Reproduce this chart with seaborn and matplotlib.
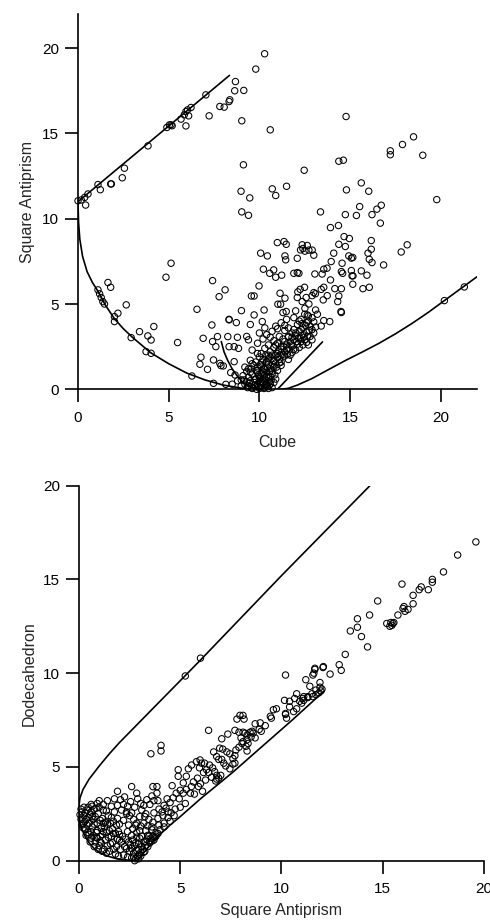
import matplotlib
matplotlib.use("Agg")
import matplotlib.pyplot as plt
import seaborn as sns
import pandas as pd

# ---------------------------------------------------------------------------
# Continuous shape measures: Cube vs Square Antiprism (upper panel)
# ---------------------------------------------------------------------------
cube_sap_upper_band = [
    (0.0, 11.05), (0.18, 11.1), (0.37, 11.25), (0.55, 11.45), (0.42, 10.8),
    (1.1, 12.0), (1.23, 11.7), (1.8, 12.04), (1.84, 12.04), (2.44, 12.4),
    (2.56, 12.96), (3.86, 14.27), (4.9, 15.35), (5.04, 15.5), (5.13, 15.5),
    (5.19, 15.45), (5.68, 15.84), (5.86, 16.09), (5.95, 16.28), (6.04, 16.38),
    (6.23, 16.52), (6.1, 16.03), (5.95, 15.44), (7.05, 17.26), (7.23, 16.03),
    (7.82, 16.58), (8.06, 16.54), (8.33, 16.87), (8.37, 16.97), (8.64, 17.5),
    (8.68, 18.04), (9.14, 17.52), (9.03, 15.74), (9.8, 18.77), (10.29, 19.67),
]
cube_sap_upper_scatter = [
    (9.12, 13.16), (10.6, 15.21), (8.99, 11.61), (9.47, 11.22), (9.03, 10.4),
    (9.4, 10.2), (10.71, 11.75), (10.9, 11.36), (11.5, 11.9), (12.47, 12.84),
    (14.78, 15.99), (14.38, 13.37), (14.63, 13.43), (14.8, 11.69), (15.62, 12.1),
    (16.03, 11.61), (17.22, 13.98), (17.22, 13.75), (17.89, 14.35), (18.5, 14.8),
    (19.01, 13.72), (19.78, 11.12), (13.37, 10.4), (13.92, 9.48), (14.36, 9.6),
    (14.74, 10.24), (15.35, 10.19), (15.53, 10.71), (16.21, 10.24), (16.48, 10.56),
    (16.72, 10.79), (16.67, 9.74),
]
cube_sap_right = [
    (14.67, 8.95), (14.96, 8.84), (14.74, 8.37), (14.38, 8.5), (16.17, 8.72),
    (16.17, 8.21), (15.99, 7.98), (16.06, 7.62), (16.21, 7.43), (16.85, 7.29),
    (17.82, 8.05), (18.15, 8.47), (14.1, 7.98), (13.96, 7.49), (13.55, 7.04),
    (13.73, 7.1), (13.46, 6.76), (13.06, 6.76), (14.56, 7.39), (14.52, 6.9),
    (14.59, 6.8), (14.93, 7.82), (15.07, 7.69), (15.15, 7.73), (15.11, 6.65),
    (15.16, 6.65), (15.07, 6.96), (15.15, 6.16), (15.71, 5.9), (15.62, 6.94),
    (15.93, 6.69), (16.06, 5.98), (13.92, 6.41), (13.55, 5.98), (14.16, 5.9),
    (14.38, 5.47), (14.32, 5.14), (14.52, 5.9), (14.5, 4.56), (14.52, 4.5),
    (13.41, 5.86), (13.0, 5.67), (13.52, 5.24), (13.74, 5.49), (13.1, 4.65),
    (13.55, 4.03), (13.88, 3.97), (13.41, 3.71), (20.2, 5.2), (21.3, 6.0),
]
cube_sap_middle = [
    (10.99, 8.6), (11.36, 8.66), (11.48, 8.5), (12.36, 8.47), (12.64, 8.43),
    (12.4, 8.25), (12.51, 8.1), (12.73, 8.16), (12.91, 8.16), (13.0, 7.86),
    (12.27, 8.17), (12.09, 7.68), (10.07, 7.98), (10.44, 7.82), (11.41, 7.82),
    (11.45, 7.59), (10.22, 7.04), (10.79, 7.0), (10.57, 6.8), (10.9, 6.57),
    (11.23, 6.69), (11.9, 6.8), (12.09, 6.84), (12.18, 6.8), (9.98, 6.06),
    (10.26, 4.65), (9.56, 5.47), (9.71, 5.47), (9.01, 4.61), (9.71, 4.36),
    (10.16, 3.97), (8.33, 4.1), (8.73, 3.91), (7.42, 6.37), (7.78, 5.43),
    (8.11, 5.83), (11.14, 5.63), (11.41, 5.34), (11.02, 4.99), (11.17, 4.99),
    (11.48, 4.56), (12.12, 5.71), (12.25, 5.86), (12.49, 5.98), (12.09, 5.38),
    (12.36, 5.14), (12.73, 5.0), (12.58, 5.38), (12.91, 5.49), (13.09, 5.6),
    (12.51, 4.75), (12.64, 4.36),
]
cube_sap_left = [
    (1.1, 5.83), (1.19, 5.6), (1.28, 5.38), (1.37, 5.14), (1.46, 5.0),
    (1.65, 6.26), (1.8, 5.98), (2.01, 4.26), (2.01, 3.97), (2.2, 4.46),
    (2.66, 4.95), (2.93, 3.03), (3.39, 3.38), (3.85, 3.13), (4.03, 2.89),
    (4.18, 3.68), (3.75, 2.21), (4.03, 2.11), (4.85, 6.57), (5.13, 7.39),
    (5.49, 2.74), (6.28, 0.78), (6.56, 4.69), (6.9, 2.99), (6.78, 1.88),
    (6.72, 1.47), (7.14, 1.17), (7.38, 3.77), (7.47, 0.35), (7.42, 2.8),
    (7.6, 2.5), (7.47, 1.72), (7.69, 3.09), (7.82, 1.52), (7.88, 1.39),
    (8.01, 1.37), (8.26, 3.09), (8.33, 2.5), (8.42, 0.98), (8.33, 4.07),
    (8.61, 2.5), (8.61, 1.62), (8.66, 0.84), (8.79, 3.05), (8.85, 2.4),
    (8.15, 0.29), (8.5, 0.3), (8.8, 0.5), (9.0, 0.2),
]
cube_sap_cluster = [
    (9.2, 0.3), (9.4, 0.2), (9.6, 0.1), (9.7, 0.4), (9.8, 0.15), (9.9, 0.3),
    (10.0, 0.05), (10.1, 0.2), (10.2, 0.35), (10.3, 0.1), (10.4, 0.25),
    (10.6, 0.3), (9.5, 0.5), (9.0, 0.55), (9.3, 0.45),
    (9.1, 0.8), (9.4, 0.7), (9.6, 0.9), (9.8, 0.6), (10.0, 0.75), (10.1, 0.95),
    (10.2, 0.6), (10.3, 0.85), (10.5, 0.7), (10.7, 0.9), (10.9, 0.6),
    (9.5, 1.0), (9.9, 1.0), (10.4, 1.0),
    (9.2, 1.3), (9.4, 1.2), (9.7, 1.4), (9.9, 1.25), (10.1, 1.35), (10.3, 1.15),
    (10.5, 1.45), (10.6, 1.2), (10.8, 1.3), (11.0, 1.1), (11.2, 1.4), (9.6, 1.5),
    (9.5, 1.7), (9.8, 1.6), (10.0, 1.9), (10.2, 1.75), (10.4, 1.6), (10.6, 1.9),
    (10.8, 1.7), (11.0, 1.85), (11.2, 1.6), (11.4, 1.95), (11.6, 1.75), (10.9, 1.55),
    (9.6, 2.3), (9.9, 2.1), (10.3, 2.4), (10.6, 2.2), (10.8, 2.45), (11.0, 2.1),
    (11.2, 2.35), (11.4, 2.2), (11.6, 2.4), (11.8, 2.15), (12.0, 2.3), (12.2, 2.45),
    (10.5, 2.0),
    (9.4, 2.9), (9.9, 2.7), (10.2, 2.95), (10.5, 2.6), (10.8, 2.85), (11.0, 2.7),
    (11.3, 2.95), (11.5, 2.6), (11.7, 2.8), (11.9, 2.9), (12.1, 2.65), (12.3, 2.8),
    (12.5, 2.9), (12.7, 2.6),
    (9.3, 3.1), (10.0, 3.3), (10.4, 3.2), (10.7, 3.4), (11.1, 3.1), (11.4, 3.45),
    (11.8, 3.3), (12.0, 3.15), (12.2, 3.4), (12.4, 3.2), (12.6, 3.35), (12.8, 3.1),
    (13.0, 3.3), (11.6, 3.05),
    (9.5, 3.8), (10.3, 3.6), (10.9, 3.7), (11.2, 3.9), (11.6, 3.6), (12.1, 3.8),
    (12.4, 3.6), (12.6, 3.9), (12.8, 3.7), (13.0, 3.95), (12.2, 4.0), (11.0, 3.55),
    (11.5, 4.1), (11.9, 4.2), (12.3, 4.1), (12.5, 4.4), (12.7, 4.3), (12.9, 4.2),
    (12.0, 4.6), (11.3, 4.5), (13.2, 4.4),
    (9.6, 0.05), (9.85, 0.0), (10.05, 0.1), (10.25, 0.05), (10.45, 0.15),
    (9.35, 0.1), (10.7, 0.1),
    (9.15, 0.55), (9.45, 0.35), (9.75, 0.55), (10.05, 0.45), (10.35, 0.55),
    (10.55, 0.45), (10.8, 0.4), (9.95, 0.85), (10.25, 0.8), (10.6, 0.75),
    (9.3, 1.05), (9.55, 1.2), (9.85, 1.1), (10.05, 1.45), (10.25, 1.2),
    (10.45, 1.3), (10.7, 1.05), (10.95, 1.3), (11.1, 1.55), (10.35, 1.55),
    (10.1, 2.1), (10.35, 2.0), (10.7, 2.0), (11.05, 2.25), (11.3, 2.05),
    (11.5, 2.3), (11.7, 2.0), (11.1, 1.75), (10.5, 1.8), (11.9, 2.35),
    (10.6, 3.05), (10.9, 2.6), (11.2, 2.5), (11.6, 3.1), (11.85, 2.55),
    (12.15, 3.0), (12.4, 2.6), (12.65, 3.1), (12.9, 2.9), (11.4, 2.8),
    (11.9, 3.5), (12.3, 3.5), (12.55, 3.75), (12.9, 3.5), (13.1, 3.65),
    (12.0, 3.3), (11.4, 3.75), (12.7, 4.0),
    (9.95, 0.15), (10.15, 0.4), (10.35, 0.3), (10.5, 0.05), (9.75, 0.25),
    (10.0, 0.6), (10.2, 1.0), (10.4, 0.75), (10.65, 0.55), (10.85, 0.85),
    (10.15, 1.6), (10.55, 1.05), (10.75, 1.45), (10.9, 2.0), (11.15, 2.0),
    (11.35, 2.5), (11.55, 2.05), (11.75, 2.6), (12.05, 2.8), (12.25, 3.0),
    (12.45, 3.05), (12.6, 2.75), (12.75, 3.45), (12.35, 3.85), (11.8, 3.05),
]

# Minimal-distortion paths and limits (upper panel)
sap_line_x = [0.0, 8.35]
sap_line_y = [11.0, 18.4]
arc_x = [0.0, 0.03, 0.1, 0.25, 0.5, 0.8, 1.1, 1.5, 2.0, 2.5, 3.0, 3.5, 4.0,
         5.0, 6.0, 7.0, 8.0, 9.0, 9.6, 10.0]
arc_y = [10.9, 9.8, 8.8, 7.8, 6.9, 6.25, 5.75, 4.95, 4.15, 3.55, 3.05, 2.6,
         2.15, 1.5, 0.95, 0.55, 0.25, 0.07, 0.02, 0.0]
small_arc_x = [7.9, 8.05, 8.25, 8.5, 8.8, 9.1, 9.5, 9.9]
small_arc_y = [2.8, 2.2, 1.7, 1.2, 0.75, 0.4, 0.12, 0.0]
ray_x = [11.0, 13.48]
ray_y = [0.0, 2.78]
rise_x = [11.2, 11.6, 12.1, 12.9, 13.8, 14.8, 15.7, 16.6, 17.5, 18.4, 19.3,
          20.2, 21.1, 22.0]
rise_y = [0.0, 0.06, 0.25, 0.63, 1.15, 1.72, 2.2, 2.7, 3.25, 3.85, 4.5, 5.2,
          5.9, 6.6]

# ---------------------------------------------------------------------------
# Square Antiprism vs Dodecahedron (lower panel)
# ---------------------------------------------------------------------------
sap_dod_upper = [
    (19.6, 17.0), (18.7, 16.3), (18.0, 15.4), (17.45, 15.0), (17.45, 14.85),
    (17.25, 14.45), (16.9, 14.6), (16.8, 14.45), (16.5, 14.15), (16.5, 13.7),
    (15.95, 14.75), (16.05, 13.55), (16.0, 13.45), (16.1, 13.3), (15.75, 13.1),
    (16.25, 13.4), (15.5, 12.65), (15.4, 12.7), (15.55, 12.7), (15.2, 12.65),
    (15.35, 12.5), (15.45, 12.55), (14.75, 13.85), (14.35, 13.1), (13.75, 12.9),
    (13.75, 12.45), (13.4, 12.25), (13.95, 11.95), (14.25, 11.4), (13.15, 11.0),
    (12.85, 10.45), (12.95, 10.15), (12.05, 10.3), (12.4, 9.95), (11.65, 10.2),
    (11.6, 10.0), (11.55, 9.9), (11.2, 9.65), (11.4, 9.3), (11.9, 9.5),
    (12.0, 9.15), (11.95, 9.05), (11.85, 8.95), (11.7, 8.85), (11.55, 8.75),
    (11.3, 8.7), (11.05, 8.65), (10.9, 8.5), (11.1, 8.75), (10.75, 8.9),
    (10.65, 8.65), (11.0, 8.4), (10.4, 8.5), (10.2, 9.9), (10.15, 8.55),
    (10.2, 7.85), (10.25, 7.6), (10.6, 7.95), (10.4, 8.2), (10.75, 8.1),
    (9.6, 8.05), (9.75, 8.1), (9.45, 7.7), (8.95, 7.35), (8.7, 7.3), (8.9, 7.0),
    (12.07, 10.35), (11.65, 10.26),
]
sap_dod_middle = [
    (7.95, 7.75), (8.1, 7.75), (8.15, 7.55), (7.8, 7.55), (7.7, 6.95),
    (7.9, 6.85), (8.1, 6.85), (8.2, 6.8), (8.3, 6.7), (8.45, 6.85), (8.55, 6.9),
    (8.6, 6.8), (8.0, 6.55), (8.1, 6.35), (8.25, 6.1), (8.35, 6.25), (8.5, 6.6),
    (8.3, 6.45), (6.4, 6.95), (7.05, 6.5), (7.35, 6.75), (7.75, 5.9), (7.6, 5.45),
    (7.7, 5.6), (7.45, 5.7), (7.3, 5.8), (7.1, 5.95), (6.95, 6.0), (6.65, 5.8),
    (6.8, 5.55), (6.9, 5.4), (7.05, 5.4), (7.15, 5.2), (7.45, 4.9), (7.6, 5.15),
    (6.7, 4.75), (6.8, 4.55), (6.9, 4.4), (6.75, 4.25), (6.6, 4.95), (6.45, 5.1),
    (6.2, 5.2), (6.05, 5.2), (5.95, 4.95), (6.15, 4.7), (6.3, 4.85), (6.4, 4.7),
    (6.0, 4.1), (5.9, 3.95), (5.65, 4.2), (5.55, 3.95), (5.3, 3.8), (5.5, 3.6),
    (5.3, 4.5), (4.9, 4.85), (4.9, 4.5), (5.4, 4.9), (5.0, 3.75), (4.8, 3.6),
    (4.65, 3.35), (4.5, 3.1), (4.35, 3.3), (4.2, 2.95), (3.95, 2.75), (3.7, 2.55),
    (4.6, 4.0), (3.85, 3.95), (3.65, 3.95), (3.55, 5.7), (4.05, 6.15), (4.05, 5.85),
    (5.15, 3.6), (5.25, 3.05), (5.0, 2.85), (4.75, 2.75), (4.4, 2.6), (4.15, 2.4),
    (3.9, 2.25), (3.65, 2.05), (4.0, 1.65), (3.85, 3.6), (3.6, 3.45), (3.35, 3.25),
    (3.2, 2.95), (3.05, 3.05), (2.85, 3.6), (2.6, 3.95), (1.9, 3.7), (3.9, 3.2),
    (5.98, 5.37), (5.8, 5.28), (5.56, 5.1),
    (6.8, 4.35), (7.0, 4.55), (7.7, 5.2), (8.3, 5.85), (9.5, 7.6), (10.2, 7.8),
    (11.1, 8.55), (11.3, 8.75), (11.5, 8.9), (11.7, 9.1), (11.9, 9.25),
    (5.7, 3.55), (5.85, 4.4), (6.25, 4.3), (6.55, 4.45), (7.25, 5.05),
    (7.9, 6.05), (8.05, 6.25), (8.7, 6.55), (9.0, 6.9), (9.2, 7.2),
    (4.3, 2.8), (4.55, 2.55), (4.95, 3.3), (5.15, 4.15), (6.1, 3.7),
]
sap_dod_lower_left = [
    (0.05, 2.45), (0.1, 2.2), (0.15, 2.6), (0.2, 2.0), (0.25, 2.4), (0.3, 1.7),
    (0.35, 2.2), (0.4, 2.7), (0.45, 1.5), (0.5, 2.0), (0.55, 2.45), (0.6, 1.2),
    (0.65, 1.8), (0.7, 2.2), (0.75, 2.75), (0.8, 1.0), (0.85, 1.5), (0.9, 2.0),
    (0.95, 2.5), (1.0, 0.8), (1.05, 1.3), (1.1, 1.75), (1.15, 2.25), (1.2, 2.7),
    (1.25, 0.6), (1.3, 1.1), (1.35, 1.5), (1.4, 1.95), (1.45, 2.4), (1.5, 0.5),
    (1.55, 0.9), (1.6, 1.3), (1.65, 1.7), (1.7, 2.1), (1.75, 2.6), (1.8, 0.35),
    (1.85, 0.75), (1.9, 1.15), (1.95, 1.55), (2.0, 1.95), (0.2, 1.75), (0.3, 2.55),
    (0.4, 1.9), (0.5, 1.4), (0.6, 2.6), (0.7, 1.35), (0.8, 2.35), (0.9, 1.2),
    (1.0, 2.85), (1.1, 0.95), (1.2, 1.55), (1.3, 2.05), (1.4, 0.8), (1.5, 1.6),
    (1.6, 2.3), (1.7, 0.6), (1.8, 1.45), (1.9, 2.25), (0.35, 1.35), (0.55, 1.0),
    (0.75, 0.75), (0.95, 0.6), (1.15, 0.5), (1.35, 0.4), (0.45, 2.85), (0.65, 2.9),
    (0.85, 2.8), (1.05, 2.15), (1.25, 1.8), (1.45, 1.25), (1.65, 0.95), (2.05, 0.6),
    (2.1, 1.0), (2.15, 1.3), (2.2, 0.3), (2.25, 0.75), (2.3, 1.15), (1.95, 0.25),
    (0.1, 2.75), (0.25, 2.85),
    (0.15, 1.9), (0.3, 2.1), (0.45, 2.3), (0.6, 1.55), (0.75, 1.95), (0.9, 1.6),
    (1.05, 1.0), (1.2, 2.0), (1.35, 2.65), (1.55, 2.0), (1.7, 1.45), (1.85, 1.9),
    (2.0, 1.1), (0.65, 2.35), (0.85, 1.25), (1.15, 1.4),
]
sap_dod_cusp = [
    (2.4, 0.2), (2.5, 0.5), (2.6, 0.15), (2.7, 0.4), (2.75, 0.8), (2.8, 0.1),
    (2.85, 0.55), (2.9, 0.25), (2.95, 0.9), (2.95, 0.1), (3.05, 0.45), (3.1, 0.75),
    (3.05, 0.25), (3.2, 1.0), (3.25, 0.5), (3.3, 0.8), (3.35, 1.15), (3.4, 0.75),
    (3.5, 0.95), (3.55, 1.2), (3.6, 1.05), (3.7, 1.1), (3.75, 1.25), (3.8, 1.3),
    (2.55, 0.85), (2.65, 1.1), (2.45, 1.0), (2.35, 0.65), (3.0, 1.2), (2.85, 1.25),
    (3.1, 1.3), (3.45, 1.3), (2.75, 0.0), (2.95, 0.6), (3.2, 0.45), (3.4, 1.35),
    (3.65, 1.3), (3.9, 1.45),
    (2.6, 0.65), (2.8, 0.95), (3.0, 0.35), (3.15, 0.6), (3.3, 1.0), (2.7, 0.2),
]
sap_dod_scattered = [
    (1.2, 3.0), (1.4, 3.2), (1.6, 2.9), (1.75, 3.3), (2.05, 3.25), (2.25, 3.4),
    (2.4, 2.9), (2.55, 3.15), (2.75, 2.85), (2.9, 3.3), (3.1, 2.7), (3.3, 2.5),
    (3.5, 3.0), (3.7, 3.2), (3.45, 2.2), (3.25, 2.35), (3.05, 1.85), (2.85, 1.5),
    (2.65, 1.7), (2.45, 1.9), (2.2, 2.15), (2.35, 2.5), (2.1, 2.7), (1.9, 2.95),
    (2.6, 2.55), (0.9, 3.05), (0.6, 3.0), (1.0, 3.2), (4.2, 2.0), (4.4, 2.3),
    (4.5, 2.1), (4.7, 2.4), (4.1, 2.6), (3.95, 1.9), (2.0, 1.4), (2.6, 1.35),
    (2.4, 1.55), (2.8, 1.9), (3.0, 1.6), (3.3, 1.6), (3.6, 1.8), (4.2, 1.8),
    (3.8, 1.5), (2.2, 3.0), (2.35, 2.6), (2.5, 2.4), (2.7, 2.2), (2.85, 2.0),
    (3.0, 2.35), (3.2, 2.0), (3.4, 1.85), (3.6, 1.65),
    (5.25, 9.85), (6.0, 10.8),
]

# Minimal-distortion paths and limits (lower panel)
upper_path_x = [0.0, 0.05, 0.2, 0.5, 1.0, 1.5, 2.0, 2.5, 3.0, 3.5, 4.0, 5.23,
                6.0, 8.0, 10.0, 12.0, 14.37]
upper_path_y = [2.95, 3.35, 3.8, 4.35, 5.05, 5.7, 6.3, 6.85, 7.4, 7.95, 8.5,
                9.85, 10.7, 12.95, 15.2, 17.4, 20.0]
lower_arc_x = [0.0, 0.05, 0.15, 0.3, 0.5, 0.75, 1.0, 1.4, 1.8, 2.2, 2.6, 2.9]
lower_arc_y = [2.45, 2.05, 1.65, 1.3, 0.95, 0.65, 0.45, 0.25, 0.12, 0.04,
               0.01, 0.0]
lower_line_x = [2.9, 3.1, 3.4, 3.7, 4.0, 4.5, 5.0, 6.0, 7.6, 9.0, 10.5, 12.1]
lower_line_y = [0.0, 0.3, 0.7, 1.05, 1.4, 1.9, 2.35, 3.3, 4.72, 6.05, 7.47, 9.04]

ticks = [0, 5, 10, 15, 20]


def frame(groups, xname, yname):
    pts = [p for g in groups for p in g]
    return pd.DataFrame(pts, columns=[xname, yname])


sns.set_theme(style="ticks")
plt.rcParams['font.family'] = ['Liberation Sans', 'DejaVu Sans']
plt.rcParams['font.size'] = 11

fig = plt.figure(figsize=(4.9, 9.21), dpi=100)
ax1 = fig.add_axes([0.1592, 0.5773, 0.8143, 0.4075])
ax2 = fig.add_axes([0.1612, 0.0655, 0.8265, 0.4072])

line_kw = dict(color="black", linewidth=1.2, sort=False, estimator=None)
pt_kw = dict(marker="o", s=21, facecolors="none", edgecolor="black",
             linewidth=0.75, legend=False, clip_on=False)

# Upper panel
df_top = frame([cube_sap_upper_band, cube_sap_upper_scatter, cube_sap_right,
                cube_sap_middle, cube_sap_left, cube_sap_cluster],
               "Cube", "Square Antiprism")
for xs, ys in [(sap_line_x, sap_line_y), (arc_x, arc_y),
               (small_arc_x, small_arc_y), (ray_x, ray_y), (rise_x, rise_y)]:
    sns.lineplot(x=xs, y=ys, ax=ax1, **line_kw)
sns.scatterplot(data=df_top, x="Cube", y="Square Antiprism", ax=ax1, **pt_kw)
ax1.set_xlim(0, 22)
ax1.set_ylim(0, 22)

# Lower panel
df_bot = frame([sap_dod_upper, sap_dod_middle, sap_dod_lower_left,
                sap_dod_cusp, sap_dod_scattered],
               "Square Antiprism", "Dodecahedron")
for xs, ys in [(upper_path_x, upper_path_y), (lower_arc_x, lower_arc_y),
               (lower_line_x, lower_line_y)]:
    sns.lineplot(x=xs, y=ys, ax=ax2, **line_kw)
sns.scatterplot(data=df_bot, x="Square Antiprism", y="Dodecahedron", ax=ax2,
                **pt_kw)
ax2.set_xlim(0, 20)
ax2.set_ylim(0, 20)

for ax in (ax1, ax2):
    ax.set_xticks(ticks)
    ax.set_yticks(ticks)
    for side in ("top", "right"):
        ax.spines[side].set_visible(False)
    for side in ("left", "bottom"):
        ax.spines[side].set_linewidth(1.2)
        ax.spines[side].set_color("black")
    ax.tick_params(axis="both", direction="out", length=9.5, width=1.2,
                   color="black", labelsize=11, labelcolor="black")
    ax.tick_params(axis="y", pad=4)
    ax.set_facecolor("white")

ax1.tick_params(axis="x", pad=6)
ax2.tick_params(axis="x", pad=6)
ax1.set_xlabel("Cube", fontsize=11.5, labelpad=7)
ax1.set_ylabel("Square Antiprism", fontsize=11.5, labelpad=5)
ax2.set_xlabel("Square Antiprism", fontsize=11.5, labelpad=5)
ax2.set_ylabel("Dodecahedron", fontsize=11.5, labelpad=5)

fig.savefig("out.png", dpi=100, facecolor="white")
